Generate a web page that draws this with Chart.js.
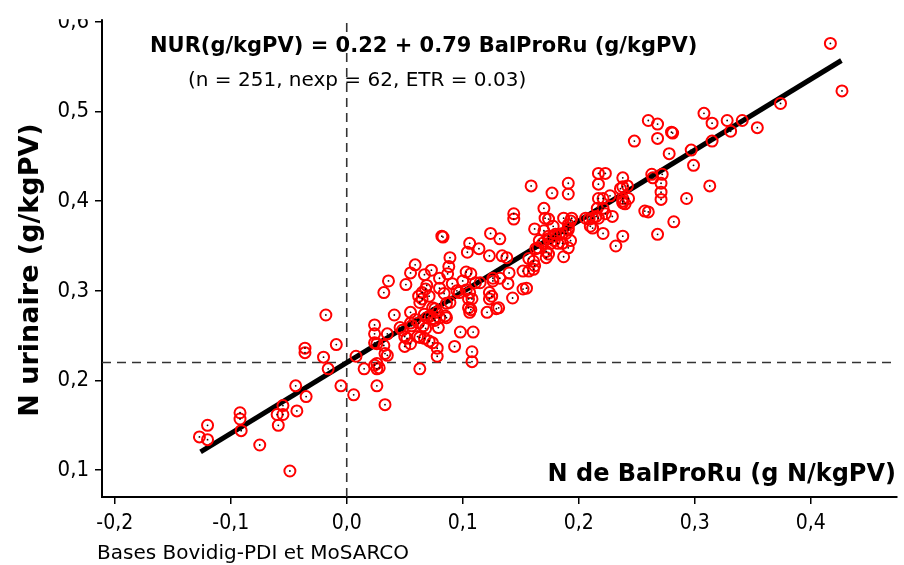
<!DOCTYPE html>
<html>
<head>
<meta charset="utf-8">
<script src="https://cdn.jsdelivr.net/npm/chart.js@4.4.1/dist/chart.umd.min.js"></script>
<style>
  html, body { margin: 0; padding: 0; background: #fff; }
  #c { display: block; }
</style>
</head>
<body>
<canvas id="c" width="904" height="565"></canvas>
<script>
// Nitrogen balance in the rumen (BalProRu, g N/kgPV) vs urinary N (g/kgPV)
const balProRu = [
  -0.018, 0.024, 0.024, 0.024, -0.009, -0.036, -0.036, -0.020, 0.008, -0.016,
  0.015, 0.024, 0.026, -0.044, -0.005, 0.026, -0.035, 0.006, -0.055, -0.060,
  -0.055, -0.043, -0.092, -0.092, -0.059, -0.120, -0.091, -0.127, -0.120, -0.075,
  -0.049, 0.033,
  0.082, 0.083, 0.124, 0.132, 0.106, 0.114, 0.104, 0.123, 0.134, 0.138,
  0.089, 0.059, 0.088, 0.073, 0.055, 0.067, 0.087, 0.103, 0.107, 0.140,
  0.036, 0.080, 0.100, 0.126, 0.132, 0.126, 0.051, 0.069, 0.068, 0.065,
  0.080, 0.091, 0.111, 0.115, 0.139, 0.032, 0.095, 0.097, 0.103, 0.106,
  0.123, 0.125, 0.123, 0.062, 0.065, 0.063, 0.071, 0.084, 0.105, 0.108,
  0.143, 0.074, 0.076, 0.078, 0.086, 0.089, 0.105, 0.107, 0.106, 0.121,
  0.129, 0.131, 0.041, 0.055, 0.067, 0.069, 0.072, 0.080, 0.085, 0.086,
  0.059, 0.062, 0.075, 0.076, 0.055, 0.056, 0.066, 0.068, 0.046, 0.048,
  0.079, 0.098, 0.109, 0.035, 0.050, 0.052, 0.061, 0.063, 0.067, 0.071,
  0.074, 0.026, 0.032, 0.050, 0.055, 0.093, 0.033, 0.035, 0.078, 0.078,
  0.108, 0.108, 0.026, 0.028, 0.063,
  0.159, 0.191, 0.177, 0.191, 0.217, 0.223, 0.238, 0.217, 0.238, 0.242,
  0.217, 0.221, 0.227, 0.238, 0.238, 0.240, 0.170, 0.144, 0.144, 0.171,
  0.174, 0.187, 0.194, 0.193, 0.206, 0.209, 0.212, 0.216, 0.221, 0.223,
  0.229, 0.217, 0.215, 0.210, 0.212, 0.191, 0.191, 0.162, 0.170, 0.178,
  0.221, 0.238, 0.174, 0.178, 0.180, 0.183, 0.186, 0.189, 0.191, 0.166,
  0.169, 0.174, 0.176, 0.179, 0.182, 0.186, 0.193, 0.163, 0.165, 0.232,
  0.172, 0.174, 0.172, 0.191, 0.187, 0.157, 0.161, 0.162, 0.161, 0.157,
  0.152, 0.152, 0.155, 0.257,
  0.260, 0.268, 0.308, 0.315, 0.328, 0.341, 0.354, 0.331, 0.280, 0.281,
  0.268, 0.248, 0.315, 0.278, 0.297, 0.299, 0.263, 0.272, 0.264, 0.236,
  0.271, 0.313, 0.271, 0.271, 0.293, 0.243, 0.238, 0.260, 0.282, 0.268,
  0.417, 0.427, 0.374
];
const nUrinaire = [
  0.273, 0.262, 0.252, 0.242, 0.240, 0.236, 0.231, 0.226, 0.227, 0.213,
  0.213, 0.217, 0.213, 0.194, 0.194, 0.194, 0.182, 0.184, 0.172, 0.162,
  0.162, 0.166, 0.164, 0.157, 0.150, 0.150, 0.144, 0.137, 0.134, 0.128,
  0.099, 0.173,
  0.361, 0.360, 0.364, 0.358, 0.353, 0.347, 0.343, 0.339, 0.339, 0.337,
  0.337, 0.329, 0.327, 0.323, 0.320, 0.318, 0.319, 0.321, 0.319, 0.320,
  0.311, 0.314, 0.311, 0.314, 0.314, 0.311, 0.307, 0.306, 0.302, 0.298,
  0.303, 0.308, 0.309, 0.309, 0.308, 0.298, 0.300, 0.298, 0.301, 0.298,
  0.298, 0.294, 0.291, 0.294, 0.291, 0.287, 0.294, 0.297, 0.291, 0.291,
  0.292, 0.281, 0.280, 0.276, 0.286, 0.287, 0.281, 0.279, 0.276, 0.276,
  0.280, 0.281, 0.273, 0.276, 0.274, 0.270, 0.272, 0.270, 0.272, 0.270,
  0.268, 0.264, 0.269, 0.267, 0.264, 0.261, 0.261, 0.258, 0.259, 0.256,
  0.259, 0.254, 0.254, 0.252, 0.249, 0.247, 0.249, 0.248, 0.247, 0.244,
  0.242, 0.241, 0.239, 0.238, 0.241, 0.238, 0.230, 0.228, 0.236, 0.227,
  0.232, 0.221, 0.219, 0.214, 0.213,
  0.417, 0.420, 0.409, 0.408, 0.431, 0.431, 0.426, 0.419, 0.416, 0.417,
  0.403, 0.403, 0.406, 0.403, 0.398, 0.397, 0.392, 0.386, 0.380, 0.381,
  0.380, 0.381, 0.381, 0.378, 0.381, 0.380, 0.381, 0.392, 0.392, 0.386,
  0.383, 0.381, 0.383, 0.372, 0.370, 0.374, 0.370, 0.369, 0.367, 0.372,
  0.364, 0.361, 0.361, 0.361, 0.363, 0.363, 0.364, 0.364, 0.368, 0.356,
  0.353, 0.358, 0.353, 0.356, 0.353, 0.353, 0.356, 0.347, 0.348, 0.350,
  0.344, 0.341, 0.337, 0.348, 0.338, 0.336, 0.333, 0.328, 0.324, 0.322,
  0.322, 0.302, 0.303, 0.389,
  0.490, 0.486, 0.498, 0.487, 0.490, 0.490, 0.482, 0.478, 0.477, 0.476,
  0.470, 0.467, 0.467, 0.453, 0.457, 0.440, 0.430, 0.430, 0.426, 0.414,
  0.420, 0.417, 0.410, 0.402, 0.403, 0.403, 0.400, 0.388, 0.377, 0.363,
  0.576, 0.523, 0.509
];

// Regression NUR = a + b * BalProRu, drawn over the observed range
const fitIntercept = 0.22;
const fitSlope = 0.79;
const fitRange = [-0.126, 0.4265];

// Axis ranges and tick values
const xRange = [-0.211, 0.474];
const yRange = [0.07, 0.603];
const xTicks = [-0.2, -0.1, 0.0, 0.1, 0.2, 0.3, 0.4];
const yTicks = [0.1, 0.2, 0.3, 0.4, 0.5, 0.6];

const TICK_FONT = "'DejaVu Sans Condensed', 'DejaVu Sans', sans-serif";
const TEXT_FONT = "'DejaVu Sans', sans-serif";

const points = balProRu.map((x, i) => ({ x, y: nUrinaire[i] }));
const fitLine = fitRange.map(x => ({ x, y: fitIntercept + fitSlope * x }));
const vRef = yRange.map(y => ({ x: 0, y }));
const hRef = xRange.map(x => ({ x, y: fitIntercept }));

const fmt = v => v.toFixed(1).replace('.', ',').replace('-0,0', '0,0');

const labels = {
  id: 'labels',
  afterDraw(chart) {
    const c = chart.ctx;
    const a = chart.chartArea;
    c.save();
    // plot frame is cut at its top edge
    c.fillStyle = '#fff';
    c.fillRect(0, 0, chart.width, a.top);
    c.fillStyle = '#000';
    c.textBaseline = 'middle';

    c.font = `bold 21px ${TEXT_FONT}`;
    c.textAlign = 'left';
    c.fillText('NUR(g/kgPV) = 0.22 + 0.79 BalProRu (g/kgPV)', 150, 47);

    c.font = `20px ${TEXT_FONT}`;
    c.fillText('(n = 251, nexp = 62, ETR = 0.03)', 188, 81);

    c.font = `bold 24px ${TEXT_FONT}`;
    c.textAlign = 'right';
    c.fillText('N de BalProRu (g N/kgPV)', 896, 475);

    c.font = `20px ${TEXT_FONT}`;
    c.textAlign = 'left';
    c.fillText('Bases Bovidig-PDI et MoSARCO', 97, 554);

    c.save();
    c.translate(31, 270);
    c.rotate(-Math.PI / 2);
    c.font = `bold 27px ${TEXT_FONT}`;
    c.textAlign = 'center';
    c.fillText('N urinaire (g/kgPV)', 0, 0);
    c.restore();

    c.restore();
  }
};

new Chart(document.getElementById('c'), {
  type: 'scatter',
  data: {
    datasets: [
      {
        data: points, order: 0,
        pointStyle: 'circle', pointRadius: 0.9, pointHoverRadius: 0.9,
        backgroundColor: '#200', borderColor: '#200', borderWidth: 0
      },
      {
        data: points, order: 1,
        pointStyle: 'circle', pointRadius: 5.5, pointHoverRadius: 5.5,
        backgroundColor: 'rgba(0,0,0,0)', borderColor: '#ff0000', borderWidth: 2
      },
      {
        type: 'line', data: fitLine, order: 2,
        borderColor: '#000', borderWidth: 5, pointRadius: 0, fill: false
      },
      {
        type: 'line', data: vRef, order: 3,
        borderColor: '#333', borderWidth: 1.6, borderDash: [9, 6], pointRadius: 0, fill: false
      },
      {
        type: 'line', data: hRef, order: 3,
        borderColor: '#333', borderWidth: 1.6, borderDash: [9, 6], pointRadius: 0, fill: false
      }
    ]
  },
  options: {
    responsive: false,
    animation: false,
    devicePixelRatio: 1,
    layout: { padding: { top: 16, right: 0, left: 0, bottom: 0 } },
    plugins: { legend: { display: false }, tooltip: { enabled: false } },
    scales: {
      x: {
        type: 'linear',
        min: xRange[0], max: xRange[1],
        afterBuildTicks: s => { s.ticks = xTicks.map(v => ({ value: v })); },
        afterFit: s => { s.height = 68; },
        border: { display: true, color: '#000', width: 2 },
        grid: { display: true, drawOnChartArea: false, drawTicks: true, tickLength: 7, color: '#000', lineWidth: 1.5 },
        ticks: { autoSkip: false, maxRotation: 0, padding: 7, color: '#000',
                 font: { family: TICK_FONT, size: 21 }, callback: v => fmt(v) }
      },
      y: {
        type: 'linear',
        min: yRange[0], max: yRange[1],
        afterBuildTicks: s => { s.ticks = yTicks.map(v => ({ value: v })); },
        afterFit: s => { s.width = 102; },
        border: { display: true, color: '#000', width: 2 },
        grid: { display: true, drawOnChartArea: false, drawTicks: true, tickLength: 7, color: '#000', lineWidth: 1.5 },
        ticks: { autoSkip: false, padding: 6, color: '#000',
                 font: { family: TICK_FONT, size: 22 }, callback: v => fmt(v) }
      }
    }
  },
  plugins: [labels]
});
</script>
</body>
</html>
